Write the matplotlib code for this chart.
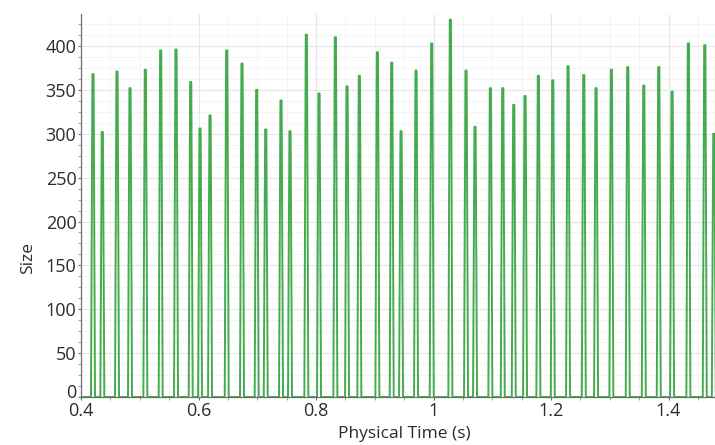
import numpy as np
import matplotlib
matplotlib.use("Agg")
import matplotlib.pyplot as plt
import matplotlib.transforms as mtransforms
from matplotlib.ticker import MultipleLocator, FuncFormatter

# Peak times (s) and peak sizes of each pulse
peak_time = [0.4204, 0.4363, 0.4613, 0.4834, 0.5095, 0.5356, 0.5617, 0.5867,
             0.6026, 0.6196, 0.6480, 0.6740, 0.6990, 0.7144, 0.7404, 0.7557,
             0.7835, 0.8051, 0.8329, 0.8528, 0.8737, 0.9044, 0.9288, 0.9447,
             0.9702, 0.9969, 1.0286, 1.0553, 1.0706, 1.0967, 1.1178, 1.1365,
             1.1557, 1.1784, 1.2029, 1.2289, 1.2557, 1.2766, 1.3026, 1.3305,
             1.3578, 1.3833, 1.4060, 1.4337, 1.4616, 1.4770]
peak_size = [368, 302, 371, 352, 373, 395, 396, 359,
             306, 321, 395, 380, 350, 305, 338, 303,
             413, 346, 410, 354, 366, 393, 381, 303,
             372, 403, 430, 372, 308, 352, 352, 333,
             343, 366, 361, 377, 367, 352, 373, 376,
             355, 376, 348, 403, 401, 300]

x_ticks = [0.4, 0.6, 0.8, 1.0, 1.2, 1.4]
y_ticks = [0, 50, 100, 150, 200, 250, 300, 350, 400]

# Build a baseline-to-peak pulse trace for each event
base_hw = 0.0034
top_hw = 0.0010
t = [0.38]
s = [0.0]
for pt, ps in zip(peak_time, peak_size):
    t += [pt - base_hw, pt - top_hw, pt + top_hw, pt + base_hw]
    s += [0.0, ps, ps, 0.0]
t.append(1.6)
s.append(0.0)

plt.rcParams["font.family"] = ["Open Sans", "DejaVu Sans"]

fig = plt.figure(figsize=(7.15, 4.45), dpi=100)
ax = fig.add_axes([0.1133, 0.1079, 0.8867, 0.8606])

ax.plot(t, s, color="#45ab4f", lw=1.4, solid_joinstyle="round")

ax.set_xlim(0.4, 1.479)
ax.set_ylim(0, 436.5)

ax.xaxis.set_major_locator(MultipleLocator(0.2))
ax.xaxis.set_minor_locator(MultipleLocator(0.05))
ax.yaxis.set_major_locator(MultipleLocator(50))
ax.yaxis.set_minor_locator(MultipleLocator(12.5))
ax.set_xticks(x_ticks)
ax.set_yticks(y_ticks)
ax.xaxis.set_major_formatter(FuncFormatter(lambda v, p: f"{v:g}"))

ax.grid(which="major", color="#e6e6e6", lw=0.8)
ax.grid(which="minor", color="#f2f2f2", lw=0.6)
ax.set_axisbelow(True)

for side in ("top", "right"):
    ax.spines[side].set_visible(False)
for side in ("left", "bottom"):
    ax.spines[side].set_color("#6e6e6e")
    ax.spines[side].set_linewidth(0.9)

ax.tick_params(which="major", length=2.5, width=0.8, color="#6e6e6e",
               labelsize=13, labelcolor="#2b2b2b", pad=0.8)
ax.tick_params(which="minor", length=2, width=0.6, color="#8a8a8a")

ax.set_xlabel("Physical Time (s)", fontsize=12.5, color="#2b2b2b")
ax.set_ylabel("Size", fontsize=12.5, color="#2b2b2b")
ax.xaxis.set_label_coords(0.51, -0.077)
ax.yaxis.set_label_coords(-0.071, 0.363)

# Lift the "0" label slightly so it clears the first time label
fig.canvas.draw()
zero_label = ax.yaxis.get_major_ticks()[0].label1
zero_label.set_transform(zero_label.get_transform() +
                         mtransforms.ScaledTranslation(0, 4 / 72, fig.dpi_scale_trans))
zero_label.set_verticalalignment("center_baseline")

fig.savefig("out.png", dpi=100)
